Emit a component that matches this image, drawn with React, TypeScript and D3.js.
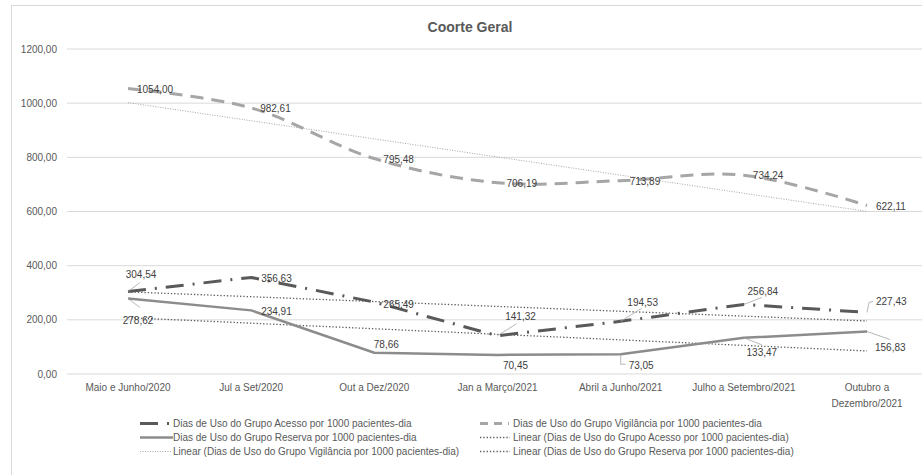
import React from "react";
import * as d3 from "d3";

// Categories (periods) and series values
const categories = [
  "Maio e Junho/2020",
  "Jul a Set/2020",
  "Out a Dez/2020",
  "Jan a Março/2021",
  "Abril a Junho/2021",
  "Julho a Setembro/2021",
  "Outubro a\nDezembro/2021",
];
const acesso = [304.54, 356.63, 265.49, 141.32, 194.53, 256.84, 227.43];
const vigilancia = [1054.0, 982.61, 795.48, 706.19, 713.89, 734.24, 622.11];
const reserva = [278.62, 234.91, 78.66, 70.45, 73.05, 133.47, 156.83];
const yTicks = [0, 200, 400, 600, 800, 1000, 1200];

const W = 922;
const H = 475;
const FONT = "'Liberation Sans', Arial, Helvetica, sans-serif";
const TEXT = "#595959";
const LABEL = "#404040";

const C_ACESSO = "#595959";
const C_VIG = "#a6a6a6";
const C_RES = "#8c8c8c";
const LEADER = "#a6a6a6";

const fmt = (v: number) => v.toFixed(2).replace(".", ",");

// Least-squares linear trend over index positions 1..n
function linearTrend(vals: number[]): [number, number] {
  const n = vals.length;
  const xs = vals.map((_, i) => i + 1);
  const mx = d3.mean(xs)!;
  const my = d3.mean(vals)!;
  let num = 0;
  let den = 0;
  xs.forEach((x, i) => {
    num += (x - mx) * (vals[i] - my);
    den += (x - mx) * (x - mx);
  });
  const slope = num / den;
  const b = my - slope * mx;
  return [slope * 1 + b, slope * n + b];
}

type LabelPos = {
  dx: number;
  dy: number;
  anchor: "start" | "middle";
  leader?: [number, number][];
};

// Label placement relative to each point
const vigLabels: LabelPos[] = vigilancia.map(() => ({ dx: 9, dy: 0.5, anchor: "start" }));
const acessoLabels: LabelPos[] = [
  { dx: 13, dy: -17, anchor: "middle", leader: [[0, 0], [12, -9]] },
  { dx: 10, dy: 1.5, anchor: "start" },
  { dx: 9, dy: 2, anchor: "start" },
  { dx: 23, dy: -19, anchor: "middle", leader: [[0, 0], [19, -12]] },
  { dx: 22, dy: -19, anchor: "middle", leader: [[0, 0], [21, -13]] },
  { dx: 19, dy: -13, anchor: "middle", leader: [[0, 0], [18, -7]] },
  { dx: 9, dy: -11, anchor: "start", leader: [[0, 0], [2, -10], [6, -11]] },
];
const reservaLabels: LabelPos[] = [
  { dx: 10, dy: 22, anchor: "middle", leader: [[0, 0], [12, 9]] },
  { dx: 10, dy: 1.5, anchor: "start" },
  { dx: 12, dy: -8, anchor: "middle" },
  { dx: 18, dy: 11, anchor: "middle" },
  { dx: 8, dy: 11, anchor: "start", leader: [[0, 1], [0, 10], [5, 10]] },
  { dx: 18, dy: 15, anchor: "middle", leader: [[0, 0], [18, 7]] },
  { dx: 8, dy: 16, anchor: "start", leader: [[0, 0], [23, 8]] },
];

export default function App() {
  const x = d3.scalePoint<string>().domain(categories).range([128, 867]);
  const y = d3.scaleLinear().domain([0, 1200]).range([374, 49]);
  const plotLeft = 67;
  const plotRight = 930;

  const straight = d3
    .line<number>()
    .x((_, i) => x(categories[i])!)
    .y((v) => y(v));
  const smooth = d3
    .line<number>()
    .x((_, i) => x(categories[i])!)
    .y((v) => y(v))
    .curve(d3.curveCatmullRom.alpha(0.5));

  const trendLine = (vals: number[]) => {
    const [a, b] = linearTrend(vals);
    return {
      x1: x(categories[0])!,
      y1: y(a),
      x2: x(categories[categories.length - 1])!,
      y2: y(b),
    };
  };
  const tAc = trendLine(acesso);
  const tVg = trendLine(vigilancia);
  const tRs = trendLine(reserva);

  const renderLabels = (vals: number[], pos: LabelPos[], key: string) =>
    vals.map((v, i) => {
      const px = x(categories[i])!;
      const py = y(v);
      const p = pos[i];
      return (
        <g key={`${key}-${i}`}>
          {p.leader && (
            <polyline
              points={p.leader.map(([a, b]) => `${px + a},${py + b}`).join(" ")}
              fill="none"
              stroke={LEADER}
              strokeWidth={0.8}
            />
          )}
          <text
            x={px + p.dx}
            y={py + p.dy}
            textAnchor={p.anchor}
            dominantBaseline="central"
            fontSize={10}
            fill={LABEL}
          >
            {fmt(v)}
          </text>
        </g>
      );
    });

  const legendRows = [423.5, 437.5, 451.5];
  const col1 = 140;
  const col2 = 480;

  return (
    <svg
      width={W}
      height={H}
      style={{ position: "absolute", left: 0, top: 0, background: "#fff" }}
      fontFamily={FONT}
    >
      <rect x={0} y={0} width={W} height={H} fill="#fff" />
      {/* chart frame */}
      <rect x={11.5} y={5.5} width={W + 10} height={H + 10} fill="none" stroke="#d9d9d9" strokeWidth={1} />

      <text x={470} y={27} textAnchor="middle" dominantBaseline="central" fontSize={14} fontWeight="bold" fill={TEXT}>
        Coorte Geral
      </text>

      {/* gridlines and y labels */}
      {yTicks.map((t) => (
        <g key={t}>
          <line x1={plotLeft} x2={plotRight} y1={y(t)} y2={y(t)} stroke="#d9d9d9" strokeWidth={1} />
          <text x={57} y={y(t)} textAnchor="end" dominantBaseline="central" fontSize={10} fill={TEXT}>
            {fmt(t)}
          </text>
        </g>
      ))}

      {/* x labels */}
      {categories.map((c) => {
        const lines = c.split("\n");
        return (
          <text key={c} x={x(c)!} y={387} textAnchor="middle" dominantBaseline="central" fontSize={10} fill={TEXT}>
            {lines.map((l, i) => (
              <tspan key={i} x={x(c)!} dy={i === 0 ? 0 : 15.5}>
                {l}
              </tspan>
            ))}
          </text>
        );
      })}

      {/* trend lines */}
      <line {...tVg} stroke={C_VIG} strokeWidth={1} strokeDasharray="1 1.5" />
      <line {...tAc} stroke={C_ACESSO} strokeWidth={1.3} strokeDasharray="1.3 2" />
      <line {...tRs} stroke={C_ACESSO} strokeWidth={1.3} strokeDasharray="1.3 2" />

      {/* series */}
      <path d={smooth(vigilancia)!} fill="none" stroke={C_VIG} strokeWidth={3} strokeDasharray="13 8" />
      <path d={straight(reserva)!} fill="none" stroke={C_RES} strokeWidth={2.5} strokeLinejoin="round" />
      <path d={straight(acesso)!} fill="none" stroke={C_ACESSO} strokeWidth={3} strokeDasharray="18 9 2 9" />

      {renderLabels(vigilancia, vigLabels, "vg")}
      {renderLabels(acesso, acessoLabels, "ac")}
      {renderLabels(reserva, reservaLabels, "rs")}

      {/* legend */}
      <g fontSize={10} fill={TEXT}>
        <line x1={col1} x2={col1 + 31} y1={legendRows[0]} y2={legendRows[0]} stroke={C_ACESSO} strokeWidth={3} strokeDasharray="18 9 2 9" />
        <text x={col1 + 33} y={legendRows[0]} dominantBaseline="central">Dias de Uso do Grupo Acesso por 1000 pacientes-dia</text>

        <line x1={col2} x2={col2 + 29} y1={legendRows[0]} y2={legendRows[0]} stroke={C_VIG} strokeWidth={3} strokeDasharray="8 6" />
        <text x={col2 + 33} y={legendRows[0]} dominantBaseline="central">Dias de Uso do Grupo Vigilância por 1000 pacientes-dia</text>

        <line x1={col1} x2={col1 + 33} y1={legendRows[1]} y2={legendRows[1]} stroke={C_RES} strokeWidth={2.5} />
        <text x={col1 + 33} y={legendRows[1]} dominantBaseline="central">Dias de Uso do Grupo Reserva por 1000 pacientes-dia</text>

        <line x1={col2} x2={col2 + 30} y1={legendRows[1]} y2={legendRows[1]} stroke={C_ACESSO} strokeWidth={1.3} strokeDasharray="1.3 2" />
        <text x={col2 + 33} y={legendRows[1]} dominantBaseline="central">Linear (Dias de Uso do Grupo Acesso por 1000 pacientes-dia)</text>

        <line x1={col1} x2={col1 + 31} y1={legendRows[2]} y2={legendRows[2]} stroke={C_VIG} strokeWidth={1} strokeDasharray="1 1.5" />
        <text x={col1 + 33} y={legendRows[2]} dominantBaseline="central">Linear (Dias de Uso do Grupo Vigilância por 1000 pacientes-dia)</text>

        <line x1={col2} x2={col2 + 30} y1={legendRows[2]} y2={legendRows[2]} stroke={C_ACESSO} strokeWidth={1.3} strokeDasharray="1.3 2" />
        <text x={col2 + 33} y={legendRows[2]} dominantBaseline="central">Linear (Dias de Uso do Grupo Reserva por 1000 pacientes-dia)</text>
      </g>
    </svg>
  );
}
